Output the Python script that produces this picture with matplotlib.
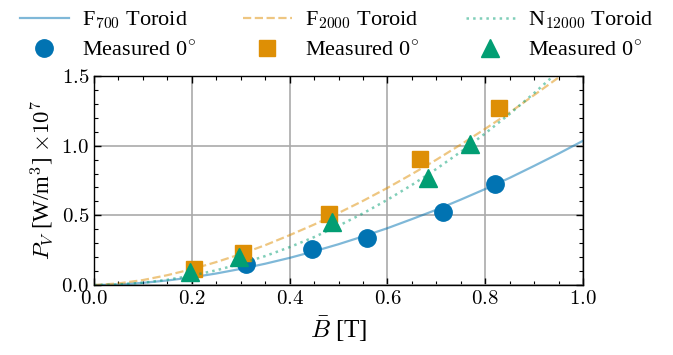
import numpy as np
import matplotlib
matplotlib.use('Agg')
import matplotlib.pyplot as plt
from matplotlib.ticker import MultipleLocator, FuncFormatter

plt.rcParams['font.family'] = 'serif'
plt.rcParams['font.serif'] = ['Liberation Serif', 'DejaVu Serif']
plt.rcParams['mathtext.fontset'] = 'cm'

# fitted curves
b_fit = [0.0, 0.05, 0.1, 0.15, 0.2, 0.25, 0.3, 0.35, 0.4, 0.45, 0.5,
         0.55, 0.6, 0.65, 0.7, 0.75, 0.8, 0.85, 0.9, 0.95, 1.0]
f700_fit = [0.0, 0.004, 0.016, 0.033, 0.055, 0.083, 0.116, 0.153, 0.195, 0.242, 0.293,
            0.349, 0.408, 0.473, 0.540, 0.613, 0.689, 0.769, 0.855, 0.943, 1.035]
f2000_fit = [0.0, 0.012, 0.036, 0.071, 0.114, 0.165, 0.222, 0.286, 0.358, 0.434, 0.517,
             0.604, 0.697, 0.796, 0.899, 1.008, 1.121, 1.238, 1.363, 1.489, 1.62]
n12000_fit = [0.0, 0.004, 0.017, 0.038, 0.068, 0.106, 0.153, 0.208, 0.272, 0.344, 0.425,
              0.514, 0.612, 0.718, 0.833, 0.956, 1.088, 1.228, 1.377, 1.534, 1.70]

# measured points
f700_b = [0.310, 0.445, 0.558, 0.713, 0.821]
f700_p = [0.151, 0.258, 0.340, 0.522, 0.727]
f2000_b = [0.205, 0.304, 0.481, 0.667, 0.829]
f2000_p = [0.113, 0.227, 0.507, 0.902, 1.273]
n12000_b = [0.196, 0.296, 0.486, 0.682, 0.768]
n12000_p = [0.095, 0.200, 0.450, 0.768, 1.010]

c_blue = '#0173B2'
c_orange = '#DE8F05'
c_green = '#029E73'

fig = plt.figure(figsize=(6.73, 3.55), dpi=100)
ax = fig.add_axes([0.1397, 0.197, 0.7266, 0.589])

ax.plot(b_fit, f700_fit, '-', color=c_blue, alpha=0.5, lw=1.6, label=r'F$_{700}$ Toroid')
ax.plot(f700_b, f700_p, 'o', color=c_blue, ms=12.5, ls='none', label=r'Measured 0$^{\circ}$')
ax.plot(b_fit, f2000_fit, '--', color=c_orange, alpha=0.5, lw=1.6, label=r'F$_{2000}$ Toroid')
ax.plot(f2000_b, f2000_p, 's', color=c_orange, ms=11.5, ls='none', label=r'Measured 0$^{\circ}$')
ax.plot(b_fit, n12000_fit, ':', color=c_green, alpha=0.5, lw=1.8, label=r'N$_{12000}$ Toroid')
ax.plot(n12000_b, n12000_p, '^', color=c_green, ms=12.5, ls='none', label=r'Measured 0$^{\circ}$')

ax.set_xlim(0, 1.0)
ax.set_ylim(0, 1.5)
ax.xaxis.set_major_locator(MultipleLocator(0.2))
ax.xaxis.set_minor_locator(MultipleLocator(0.05))
ax.yaxis.set_major_locator(MultipleLocator(0.5))
ax.yaxis.set_minor_locator(MultipleLocator(0.1))
fmt = FuncFormatter(lambda v, p: f'${v:.1f}$')
ax.xaxis.set_major_formatter(fmt)
ax.yaxis.set_major_formatter(fmt)
ax.tick_params(which='both', direction='in', top=True, right=True, labelsize=15)
ax.tick_params(which='major', length=5, width=1)
ax.tick_params(which='minor', length=3, width=0.8)
ax.grid(True, which='major', color='#aaaaaa', lw=1.2)
ax.set_axisbelow(True)
for s in ax.spines.values():
    s.set_linewidth(1.0)

ax.set_xlabel(r'$\bar{B}$ [T]', fontsize=18)
ax.set_ylabel(r'$P_V$ [W/m$^3$] $\times 10^7$', fontsize=16.5)

fig.legend(loc='upper center', bbox_to_anchor=(0.5, 1.03), ncol=3, frameon=False,
           fontsize=16, columnspacing=2.1, handlelength=2.2, handletextpad=0.6,
           labelspacing=0.4)

fig.savefig('out.png', dpi=100)
